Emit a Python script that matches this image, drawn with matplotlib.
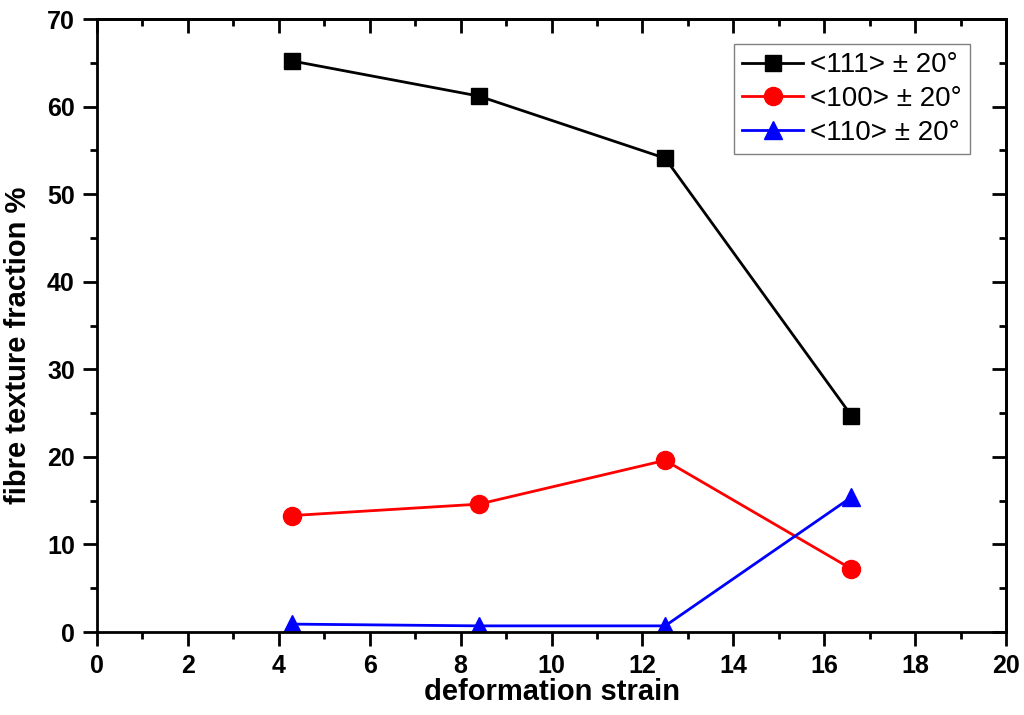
import matplotlib
matplotlib.use("Agg")
import matplotlib.pyplot as plt
from matplotlib.ticker import MultipleLocator

strain = [4.3, 8.4, 12.5, 16.6]
f111 = [65.2, 61.2, 54.1, 24.7]
f100 = [13.3, 14.6, 19.6, 7.2]
f110 = [0.9, 0.7, 0.7, 15.4]
labels = ["<111> \u00b1 20\u00b0", "<100> \u00b1 20\u00b0", "<110> \u00b1 20\u00b0"]

plt.rcParams['font.family'] = ['Liberation Sans', 'DejaVu Sans']

fig = plt.figure(figsize=(10.24, 7.15), dpi=100)
ax = fig.add_axes([97/1024, 1-632/715, (1006-97)/1024, (632-19)/715])

ax.plot(strain, f111, '-s', color='black', lw=2, ms=12, label=labels[0])
ax.plot(strain, f100, '-o', color='red', lw=2, ms=13, label=labels[1])
ax.plot(strain, f110, '-^', color='blue', lw=2, ms=13, label=labels[2])

ax.set_xlim(0, 20)
ax.set_ylim(0, 70)
ax.xaxis.set_major_locator(MultipleLocator(2))
ax.xaxis.set_minor_locator(MultipleLocator(1))
ax.yaxis.set_major_locator(MultipleLocator(10))
ax.yaxis.set_minor_locator(MultipleLocator(5))

for s in ax.spines.values():
    s.set_linewidth(2)

ax.tick_params(which='both', width=2, labelsize=18, direction='out')
ax.tick_params(which='major', length=10, pad=6)
ax.tick_params(which='minor', length=5)
for lab in ax.get_xticklabels() + ax.get_yticklabels():
    lab.set_fontweight('bold')

# top and right inward ticks
axt = ax.secondary_xaxis('top')
axt.xaxis.set_major_locator(MultipleLocator(2))
axt.xaxis.set_minor_locator(MultipleLocator(1))
axt.tick_params(which='both', direction='in', width=2, labeltop=False)
axt.tick_params(which='major', length=10)
axt.tick_params(which='minor', length=5)
axt.spines['top'].set_linewidth(2)
axr = ax.secondary_yaxis('right')
axr.yaxis.set_major_locator(MultipleLocator(10))
axr.yaxis.set_minor_locator(MultipleLocator(5))
axr.tick_params(which='both', direction='in', width=2, labelright=False)
axr.tick_params(which='major', length=10)
axr.tick_params(which='minor', length=5)
axr.spines['right'].set_linewidth(2)

ax.set_xlabel("deformation strain", fontsize=21, fontweight='bold', labelpad=0)
ax.set_ylabel("fibre texture fraction %", fontsize=21, fontweight='bold',
              labelpad=11, y=0.468)

leg = ax.legend(loc='upper right', bbox_to_anchor=(0.9604, 0.9592), borderaxespad=0,
                fontsize=20, fancybox=False, framealpha=1, edgecolor='gray',
                handlelength=2.2, borderpad=0.3, labelspacing=0.28, handletextpad=0.25)
leg.get_frame().set_linewidth(1)

fig.savefig("out.png", dpi=100)
